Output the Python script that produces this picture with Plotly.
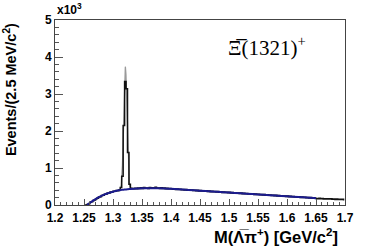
import numpy as np
import plotly.graph_objects as go

# ---- data histogram (2.5 MeV bins from 1.25 to 1.70 GeV) ----
bin_low = 1.25
bin_width = 0.0025
data_counts = [
    0, 0, 14, 36, 72, 86, 121, 134, 170, 183,
    214, 224, 254, 262, 291, 294, 322, 325, 348, 350,
    372, 370, 391, 388, 408, 470, 780, 2150, 3340, 3145,
    1420, 560, 452, 446, 438, 452, 441, 457, 446, 463,
    448, 470, 452, 461, 449, 472, 455, 466, 452, 480,
    457, 462, 449, 468, 444, 458, 441, 452, 439, 447,
    442, 428, 436, 421, 431, 418, 426, 410, 421, 405,
    418, 400, 412, 396, 408, 390, 401, 384, 396, 380,
    392, 376, 387, 370, 382, 365, 377, 360, 372, 355,
    366, 351, 362, 345, 357, 340, 352, 335, 347, 331,
    342, 326, 337, 320, 331, 316, 327, 310, 322, 306,
    316, 301, 311, 296, 306, 290, 302, 286, 296, 281,
    291, 276, 287, 271, 281, 266, 276, 261, 271, 256,
    266, 251, 261, 246, 256, 241, 251, 236, 246, 231,
    241, 226, 236, 221, 231, 216, 226, 211, 221, 206,
    216, 201, 211, 196, 206, 191, 201, 186, 196, 182,
    178, 171, 180, 168, 175, 165, 172, 162, 170, 160,
    166, 156, 163, 152, 160, 150, 158, 147, 155, 145,
]

# ---- background fit curve ----
bkg_mass = [1.2553, 1.26, 1.265, 1.27, 1.275, 1.28, 1.285, 1.29, 1.295, 1.30,
            1.305, 1.31, 1.315, 1.32, 1.325, 1.33, 1.34, 1.35, 1.36, 1.37,
            1.38, 1.39, 1.40, 1.42, 1.44, 1.46, 1.48, 1.50, 1.52, 1.54,
            1.56, 1.58, 1.60, 1.62, 1.64, 1.65]
bkg_counts = [0, 60, 110, 160, 205, 245, 280, 310, 337, 360,
              380, 397, 409, 419, 427, 433, 443, 450, 454, 455,
              455, 448, 437, 417, 397, 376, 355, 335, 315, 295,
              275, 255, 235, 215, 195, 185]

# ---- total fit curve (signal + background) ----
fit_mass = [1.2553, 1.265, 1.275, 1.285, 1.295, 1.305, 1.3113, 1.3123, 1.3133,
            1.3143, 1.3153, 1.3163, 1.3173, 1.3183, 1.3193, 1.3203, 1.3213,
            1.3223, 1.3233, 1.3243, 1.3253, 1.3263, 1.3273, 1.3283, 1.3293,
            1.3303, 1.3313, 1.34, 1.36, 1.38, 1.40, 1.45, 1.50, 1.55, 1.60, 1.65]
fit_counts = [0, 110, 205, 280, 337, 380, 405, 420, 459,
              551, 741, 1083, 1606, 2282, 2988, 3531, 3739,
              3535, 2996, 2294, 1622, 1102, 764, 577, 488,
              452, 440, 443, 454, 455, 437, 387, 335, 285, 235, 185]

# ---- axis ticks ----
x_tick_vals = [1.2, 1.25, 1.3, 1.35, 1.4, 1.45, 1.5, 1.55, 1.6, 1.65, 1.7]
x_tick_text = ["1.2", "1.25", "1.3", "1.35", "1.4", "1.45", "1.5", "1.55", "1.6", "1.65", "1.7"]
y_tick_vals = [0, 1000, 2000, 3000, 4000, 5000]
y_tick_text = ["0", "1", "2", "3", "4", "5"]

centers = bin_low + bin_width * (np.arange(len(data_counts)) + 0.5)

W, H = 366, 248
L, R, T, B = 55, 17, 20, 43
pw, ph = W - L - R, H - T - B

fig = go.Figure()
fig.add_trace(go.Scatter(x=fit_mass, y=fit_counts, mode="lines",
                         line=dict(color="#9a9a9a", width=1.3), hoverinfo="skip"))
fig.add_trace(go.Scatter(x=centers, y=data_counts, mode="lines",
                         line=dict(color="#111111", width=1.5, shape="hvh"),
                         hoverinfo="skip"))
fig.add_trace(go.Scatter(x=bkg_mass, y=bkg_counts, mode="lines",
                         line=dict(color="#1c1c8e", width=2, shape="spline"),
                         hoverinfo="skip"))

SANS = "Liberation Sans, Arial, Helvetica, sans-serif"
tickfont = dict(family=SANS, size=12, color="black", weight="bold")
fig.update_layout(
    width=W, height=H, showlegend=False,
    margin=dict(l=L, r=R, t=T, b=B),
    paper_bgcolor="white", plot_bgcolor="white",
    xaxis=dict(range=[1.2, 1.7], tickvals=x_tick_vals, ticktext=x_tick_text,
               ticks="inside", ticklen=6, tickcolor="#555", tickwidth=1,
               ticklabelstandoff=2,
               minor=dict(dtick=0.01, tick0=1.2, ticks="inside", ticklen=3, tickcolor="#555"),
               showline=True, linecolor="#444", linewidth=1, mirror=True,
               showgrid=False, zeroline=False, tickfont=tickfont),
    yaxis=dict(range=[0, 5000], tickvals=y_tick_vals, ticktext=y_tick_text,
               ticks="inside", ticklen=8, tickcolor="#555", tickwidth=1,
               minor=dict(dtick=200, tick0=0, ticks="inside", ticklen=4, tickcolor="#555"),
               showline=True, linecolor="#444", linewidth=1, mirror=True,
               showgrid=False, zeroline=False, tickfont=tickfont),
)

def px_x(p):
    return (p - L) / pw

def px_y(p):
    return (H - B - p) / ph

fig.add_annotation(text="<b>Events/(2.5 MeV/c<sup>2</sup>)</b>", textangle=-90,
                   xref="paper", yref="paper", x=px_x(10), y=px_y(21),
                   xanchor="center", yanchor="top", showarrow=False,
                   font=dict(family=SANS, size=14.5, color="black"))
fig.add_annotation(text="<b>M(\u039b\u0305\u03c0<sup>+</sup>) [GeV/c<sup>2</sup>]</b>",
                   xref="paper", yref="paper", x=px_x(344), y=px_y(236),
                   xanchor="right", yanchor="middle", showarrow=False,
                   font=dict(family=SANS, size=16.5, color="black"))
fig.add_annotation(text="<b>x10<sup>3</sup></b>",
                   xref="paper", yref="paper", x=px_x(55), y=px_y(19),
                   xanchor="left", yanchor="bottom", showarrow=False,
                   font=dict(family=SANS, size=12, color="black"))
fig.add_annotation(text="\u039e\u0305(1321)<sup>+</sup>",
                   xref="paper", yref="paper", x=px_x(270), y=px_y(47),
                   xanchor="center", yanchor="middle", showarrow=False,
                   font=dict(family="Liberation Serif, Times New Roman, serif", size=21, color="black"))

fig.write_html("out.html", config={"displayModeBar": False},
               post_script="document.body.style.margin='0px';")
